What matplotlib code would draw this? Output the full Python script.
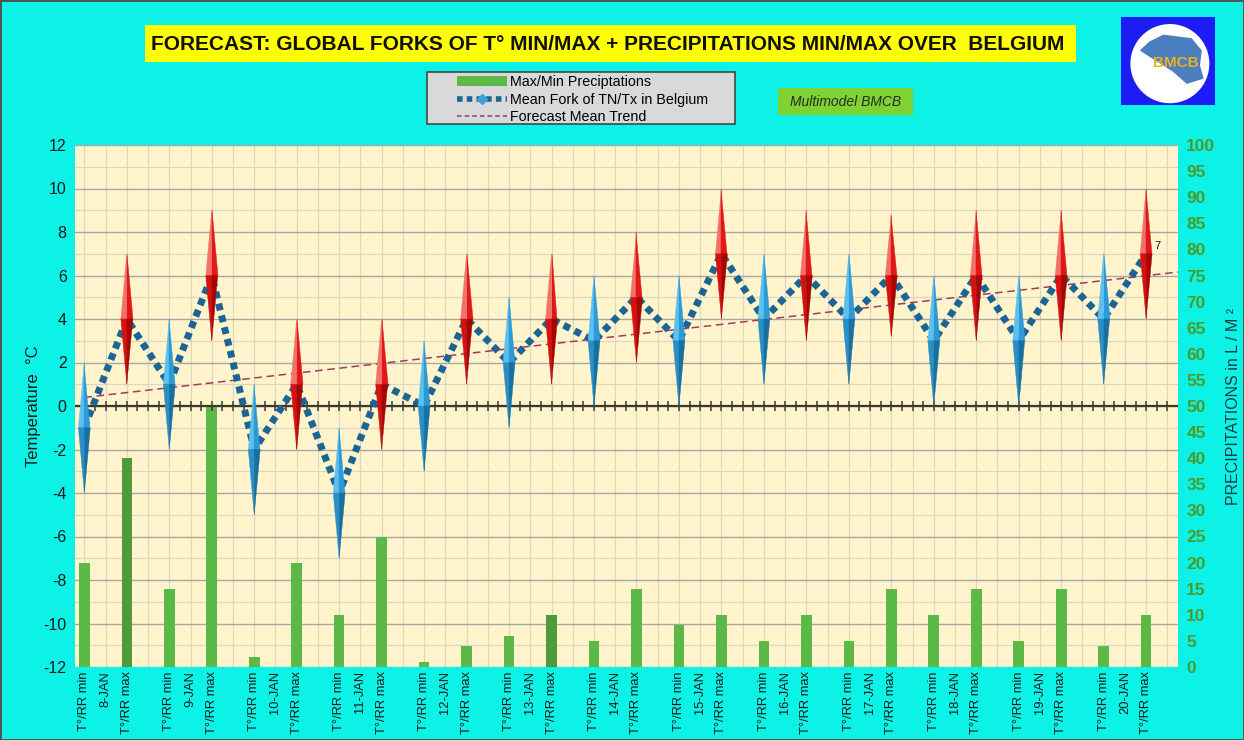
import numpy as np
import matplotlib
matplotlib.use("Agg")
import matplotlib.pyplot as plt
from matplotlib.patches import Rectangle, Ellipse, Polygon, Patch
from matplotlib.lines import Line2D

# ---------------- data ----------------
days = ["8-JAN", "9-JAN", "10-JAN", "11-JAN", "12-JAN", "13-JAN", "14-JAN",
        "15-JAN", "16-JAN", "17-JAN", "18-JAN", "19-JAN", "20-JAN"]
cat_labels = ["T°/RR min", "T°/RR max"] * len(days)
kinds = ["min", "max"] * len(days)

t_high = [2, 7, 4, 9, 1, 4, -1, 4, 3, 7, 5, 7, 6, 8, 6, 10, 7, 9, 7, 8.8, 6, 9, 6, 9, 7, 10]
t_low = [-4, 1, -2, 3, -5, -2, -7, -2, -3, 1, -1, 1, 0, 2, 0, 4, 1, 3, 1, 3.2, 0, 3, 0, 3, 1, 4]
t_mean = [-1, 4, 1, 6, -2, 1, -4, 1, 0, 4, 2, 4, 3, 5, 3, 7, 4, 6, 4, 6, 3, 6, 3, 6, 4, 7]
precip = [20, 40, 15, 50, 2, 20, 10, 25, 1, 4, 6, 10, 5, 15, 8, 10, 5, 10, 5, 15, 10, 15, 5, 15, 4, 10]
precip_dark = [False, True, False, False, False, False, False, False, False, False, False, True, False,
               False, False, False, False, False, False, False, False, False, False, False, False, False]

title = "FORECAST: GLOBAL FORKS OF T° MIN/MAX + PRECIPITATIONS MIN/MAX OVER  BELGIUM"

# ---------------- style ----------------
BG = "#0df2e6"
PLOT_BG = "#fff4cc"
W, H = 1244, 740
plt.rcParams['font.family'] = ['Liberation Sans', 'DejaVu Sans']
plt.rcParams['axes.unicode_minus'] = False

fig = plt.figure(figsize=(W / 100, H / 100), dpi=100, facecolor=BG)

def fx(px):
    return px / W

def fy(py):
    return 1 - py / H

# figure border
fig.patches.append(Rectangle((0, 0), 1, 1, transform=fig.transFigure, fill=False,
                             edgecolor="#505050", linewidth=2))

ax = fig.add_axes([fx(75), fy(667), fx(1178) - fx(75), fy(145) - fy(667)])
ax.set_facecolor(PLOT_BG)
ax2 = ax.twinx()
ax2.patch.set_visible(False)

n = len(t_mean)
x = np.arange(n)
ax.set_xlim(-0.22, n - 1 + 0.75)
ax.set_ylim(-12, 12)
ax2.set_ylim(0, 100)

# grid
ax.set_yticks(np.arange(-12, 13, 2))
ax.set_yticks(np.arange(-12, 13, 1), minor=True)
ax.grid(axis='y', which='major', color="#a8a8a0", linewidth=1.0, zorder=0)
ax.grid(axis='y', which='minor', color="#ddd6c0", linewidth=0.9, zorder=0)
for gx in np.arange(0, n, 0.5):
    ax.axvline(gx, color="#ddd6c0", linewidth=0.9, zorder=0)
ax.set_axisbelow(True)

# precipitation bars (right scale)
bar_colors = ["#4f9a3a" if d else "#5cb947" for d in precip_dark]
ax.bar(x, precip, width=0.25, color=bar_colors, transform=ax2.transData, zorder=1)

# zero axis line with small ticks
ax.axhline(0, color="#3a3a30", linewidth=1.6, zorder=2)
tick_x = np.arange(0, n - 1 + 0.75, 0.25)
ax.plot(tick_x, np.zeros_like(tick_x), linestyle='none', marker='|', markersize=7,
        markeredgewidth=1.1, color="#3a3a30", zorder=2)

# trend line
coef = np.polyfit(x, t_mean, 1)
tx = np.array([0, n - 1 + 0.75])
ax.plot(tx, np.polyval(coef, tx), linestyle=(0, (5, 3)), color="#a8385c", linewidth=1.1, zorder=2.5)

# mean line
ax.plot(x, t_mean, color="#1b6494", linewidth=5, linestyle=(0, (1.0, 0.75)),
        dash_capstyle='butt', zorder=3)

# diamonds (forks)
hw = 0.14
for xi, hi, lo, mi, k in zip(x, t_high, t_low, t_mean, kinds):
    c = (hi + lo) / 2
    if k == "min":
        cols = ["#5cc0ef", "#2d9ad6", "#2a8fc8", "#17709f"]
    else:
        cols = ["#f2716a", "#e01818", "#d81010", "#a80606"]
    top, bot = (xi, hi), (xi, lo)
    left, right, mid = (xi - hw, c), (xi + hw, c), (xi, c)
    for poly, col in zip([[top, left, mid], [top, mid, right], [mid, left, bot], [mid, right, bot]], cols):
        ax.add_patch(Polygon(poly, closed=True, facecolor=col, edgecolor=col, linewidth=0.3, zorder=4))

ax.text(n - 1 + 0.2, t_mean[-1] + 0.35, f"{t_mean[-1]:g}", fontsize=8, color="#111111",
        va='center', ha='left', zorder=5)

# x labels
tick_pos = []
tick_lab = []
for i, d in enumerate(days):
    tick_pos += [2 * i, 2 * i + 0.5, 2 * i + 1]
    tick_lab += [cat_labels[2 * i], d, cat_labels[2 * i + 1]]
ax.set_xticks(tick_pos)
ax.set_xticklabels(tick_lab, rotation=90, fontsize=9.3, color="#1a1a1a")
ax.tick_params(axis='x', length=0, pad=3)
ax.tick_params(axis='y', which='both', length=0, labelsize=11.5, colors="#1a1a1a", pad=6)
ax2.set_yticks(np.arange(0, 101, 5))
ax2.tick_params(axis='y', length=0, labelsize=12.5, labelcolor="#4c9a2a", pad=6)
for lab in ax2.get_yticklabels():
    lab.set_fontweight('bold')

for sp in list(ax.spines.values()) + list(ax2.spines.values()):
    sp.set_visible(False)

ax.set_ylabel("Temperature  °C", fontsize=12, color="#1a1a1a", labelpad=2)
ax2.set_ylabel("PRECIPITATIONS in L / M ²", fontsize=11.5, color="#1a3a40", labelpad=8)

# title box
fig.patches.append(Rectangle((fx(145), fy(62)), fx(1076) - fx(145), fy(25) - fy(62),
                             transform=fig.transFigure, facecolor="#ffff00", edgecolor="none"))
fig.text(fx(608), fy(44), title, ha='center', va='center', fontsize=15, fontweight='bold',
         family=['Liberation Sans Narrow', 'Liberation Sans', 'DejaVu Sans'], color="#111111")

# legend box
fig.patches.append(Rectangle((fx(427), fy(124)), fx(735) - fx(427), fy(72) - fy(124),
                             transform=fig.transFigure, facecolor="#d9d9d9", edgecolor="#404848",
                             linewidth=1.2))
handles = [Patch(facecolor="#5cb947", edgecolor="none"),
           Line2D([], [], color="#1b6494", linewidth=4, linestyle=(0, (1.0, 0.75)),
                  marker='D', markersize=5, markerfacecolor="#3fa0d8", markeredgecolor="#3fa0d8"),
           Line2D([], [], color="#a8385c", linewidth=1.1, linestyle=(0, (3, 2)))]
labels = ["Max/Min Preciptations", "Mean Fork of TN/Tx in Belgium", "Forecast Mean Trend"]
fig.legend(handles, labels, loc='upper left', bbox_to_anchor=(fx(447), fy(65)), frameon=False,
           fontsize=10.3, handlelength=3.5, handletextpad=0.2, labelspacing=0.26,
           borderpad=0.2, numpoints=1)

# Multimodel box
fig.patches.append(Rectangle((fx(778), fy(115)), fx(913) - fx(778), fy(88) - fy(115),
                             transform=fig.transFigure, facecolor="#7ed232", edgecolor="none"))
fig.text(fx(845.5), fy(102), "Multimodel BMCB", ha='center', va='center', fontsize=10,
         style='italic', color="#2a2a2a")

# logo
lax = fig.add_axes([fx(1121), fy(105), fx(1215) - fx(1121), fy(17) - fy(105)])
lax.set_xlim(0, 1)
lax.set_ylim(0, 1)
lax.set_facecolor("#1c1cf5")
for sp in lax.spines.values():
    sp.set_visible(False)
lax.set_xticks([])
lax.set_yticks([])
lax.add_patch(Ellipse((0.52, 0.47), 0.84, 0.9, facecolor="white", edgecolor="none"))
lax.add_patch(Polygon([[0.2, 0.62], [0.3, 0.72], [0.45, 0.8], [0.6, 0.78], [0.75, 0.76],
                       [0.86, 0.62], [0.84, 0.45], [0.88, 0.3], [0.7, 0.24], [0.55, 0.38],
                       [0.3, 0.55]], closed=True, facecolor="#4b7fc0", edgecolor="none"))
lax.text(0.58, 0.48, "BMCB", ha='center', va='center', fontsize=11, fontweight='bold',
         color="#f0b020")

fig.savefig("out.png", dpi=100, facecolor=BG)
